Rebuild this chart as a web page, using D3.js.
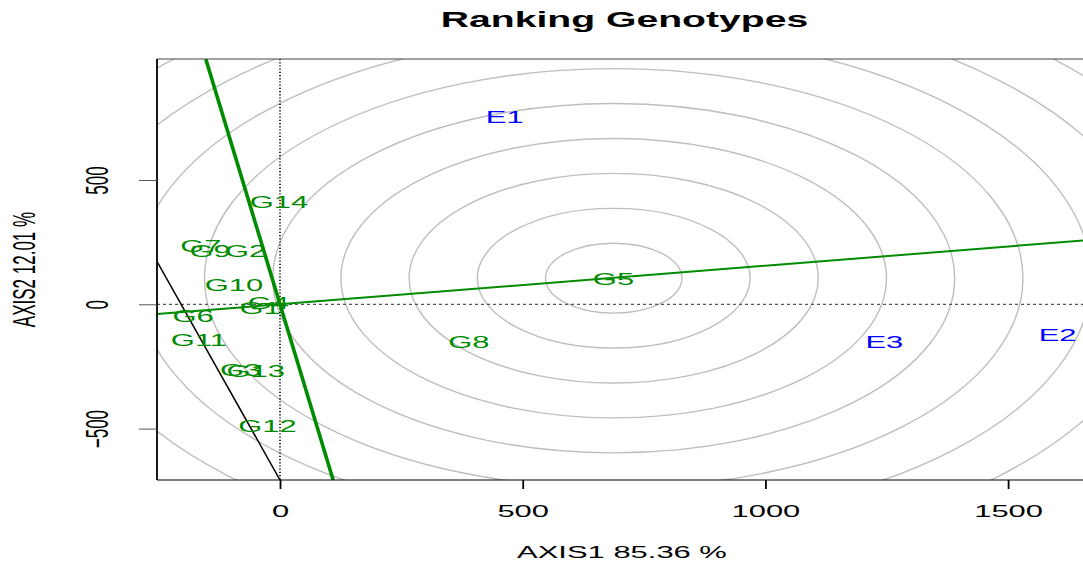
<!DOCTYPE html>
<html>
<head>
<meta charset="utf-8">
<script src="https://cdn.jsdelivr.net/npm/d3@7"></script>
<style>
  body { margin: 0; background: #fff; }
  text { font-family: "Liberation Sans", Arial, Helvetica, sans-serif; }
</style>
</head>
<body>
<div id="chart"></div>
<script>
// Genotype scores (AXIS1, AXIS2)
var genotypes = ["G1", "G2", "G3", "G4", "G5", "G6", "G7", "G8", "G9", "G10", "G11", "G12", "G13", "G14"];
var genoX = [-41, -71, -81, -24, 687, -179, -163, 389, -144, -95, -167, -26, -50, -2];
var genoY = [-16, 214, -264, 4, 102, -47, 236, -153, 214, 78, -144, -490, -267, 413];

// Environment scores
var environments = ["E1", "E2", "E3"];
var envX = [463, 1602, 1245];
var envY = [755, -124, -153];

// Average environment axis and ideal-genotype rings
var aeaSlope = 0.155;
var idealPoint = [687.5, 105];
var ringStep = 140.5;
var ringCount = [1, 2, 3, 4, 5, 6, 7, 8, 9, 10];

// thin black segment
var blackSegment = [[-253, 171], [0, -707]];

var xTicks = [0, 500, 1000, 1500];
var yTicks = [-500, 0, 500];
var xDomain = [-253.4, 1660.5];
var yDomain = [-706.8, 986.7];

var title = "Ranking Genotypes";
var xLabel = "AXIS1 85.36 %";
var yLabel = "AXIS2 12.01 %";

// the picture is stretched sideways, so text is too
var sx = 1.82;
var green = "#008B00";

var W = 1083, H = 563;
var margin = {top: 59, right: -3, bottom: 83, left: 157};
var width = W - margin.left - margin.right,
    height = H - margin.top - margin.bottom;

var svg = d3.select("#chart")
  .append("svg")
  .attr("width", W)
  .attr("height", H);

svg.append("rect").attr("width", W).attr("height", H).attr("fill", "#fff");

var g = svg.append("g")
  .attr("transform", "translate(" + margin.left + "," + margin.top + ")");

var x = d3.scaleLinear().domain(xDomain).range([0, width]);
var y = d3.scaleLinear().domain(yDomain).range([height, 0]);

g.append("clipPath").attr("id", "plotclip")
  .append("rect").attr("width", width).attr("height", height);

var plot = g.append("g").attr("clip-path", "url(#plotclip)");

// concentric rings round the ideal genotype (circles in data units)
plot.selectAll(".ring")
  .data(ringCount)
  .enter().append("ellipse")
  .attr("cx", x(idealPoint[0]))
  .attr("cy", y(idealPoint[1]))
  .attr("rx", function(d) { return x(d * ringStep) - x(0); })
  .attr("ry", function(d) { return y(0) - y(d * ringStep); })
  .attr("fill", "none")
  .attr("stroke", "#bebebe")
  .attr("stroke-width", 1.4);

// reference lines through origin
plot.append("line")
  .attr("x1", 0).attr("x2", width)
  .attr("y1", y(0)).attr("y2", y(0))
  .attr("stroke", "#555")
  .attr("stroke-width", 1.2)
  .attr("stroke-dasharray", "3,3");
plot.append("line")
  .attr("x1", x(0)).attr("x2", x(0))
  .attr("y1", 0).attr("y2", height)
  .attr("stroke", "#000")
  .attr("stroke-width", 1.6)
  .attr("stroke-dasharray", "1.2,2");

// black segment
plot.append("line")
  .attr("x1", x(blackSegment[0][0])).attr("y1", y(blackSegment[0][1]))
  .attr("x2", x(blackSegment[1][0])).attr("y2", y(blackSegment[1][1]))
  .attr("stroke", "#000")
  .attr("stroke-width", 1.5);

// average environment axis
plot.append("line")
  .attr("x1", x(xDomain[0])).attr("y1", y(xDomain[0] * aeaSlope))
  .attr("x2", x(xDomain[1])).attr("y2", y(xDomain[1] * aeaSlope))
  .attr("stroke", green)
  .attr("stroke-width", 2);

// perpendicular through origin
var perp = -1 / aeaSlope;
plot.append("line")
  .attr("x1", x(yDomain[1] / perp)).attr("y1", y(yDomain[1]))
  .attr("x2", x(yDomain[0] / perp)).attr("y2", y(yDomain[0]))
  .attr("stroke", green)
  .attr("stroke-width", 3.6);

// labels
function addLabels(names, xs, ys, colour) {
  plot.selectAll(null)
    .data(names)
    .enter().append("text")
    .attr("transform", function(d, i) {
      return "translate(" + x(xs[i]) + "," + y(ys[i]) + ") scale(" + sx + ",1)";
    })
    .attr("text-anchor", "middle")
    .attr("dy", "0.36em")
    .attr("font-size", 17)
    .attr("fill", colour)
    .text(function(d) { return d; });
}
addLabels(genotypes, genoX, genoY, green);
addLabels(environments, envX, envY, "#0000ff");

// box
g.append("line").attr("x1", 0).attr("x2", width).attr("y1", 0).attr("y2", 0)
  .attr("stroke", "#444").attr("stroke-width", 1);
g.append("line").attr("x1", 0).attr("x2", width).attr("y1", height).attr("y2", height)
  .attr("stroke", "#000").attr("stroke-width", 1);
g.append("line").attr("x1", 0).attr("x2", 0).attr("y1", 0).attr("y2", height)
  .attr("stroke", "#000").attr("stroke-width", 1.8);

// X axis
var xAxis = g.append("g")
  .attr("transform", "translate(0," + height + ")")
  .call(d3.axisBottom(x).tickValues(xTicks).tickSize(9).tickFormat(d3.format("d")));
xAxis.select(".domain").remove();
xAxis.selectAll("line").attr("stroke", "#000").attr("stroke-width", 1.8);
xAxis.selectAll("text")
  .attr("y", null).attr("dy", null)
  .attr("transform", "translate(0,36.7) scale(" + sx + ",1)")
  .attr("font-size", 17)
  .attr("fill", "#000")
  .attr("font-family", "Liberation Sans, Arial, sans-serif");

// Y axis
var yAxis = g.append("g")
  .call(d3.axisLeft(y).tickValues(yTicks).tickSize(18).tickFormat(d3.format("d")));
yAxis.select(".domain").remove();
yAxis.selectAll("line").attr("stroke", "#555").attr("stroke-width", 1);
yAxis.selectAll("text")
  .attr("x", null).attr("dy", null)
  .attr("text-anchor", "middle")
  .attr("transform", "translate(-49,0) scale(" + sx + ",1) rotate(-90)")
  .attr("font-size", 17)
  .attr("fill", "#000")
  .attr("font-family", "Liberation Sans, Arial, sans-serif");

// titles
svg.append("text")
  .attr("transform", "translate(624.5,26.5) scale(" + sx + ",1)")
  .attr("text-anchor", "middle")
  .attr("font-size", 21.5)
  .attr("font-weight", "bold")
  .text(title);

svg.append("text")
  .attr("transform", "translate(622,558.3) scale(" + sx + ",1)")
  .attr("text-anchor", "middle")
  .attr("font-size", 17)
  .text(xLabel);

svg.append("text")
  .attr("transform", "translate(35," + (margin.top + height / 2) + ") scale(" + sx + ",1) rotate(-90)")
  .attr("text-anchor", "middle")
  .attr("font-size", 17)
  .text(yLabel);
</script>
</body>
</html>
